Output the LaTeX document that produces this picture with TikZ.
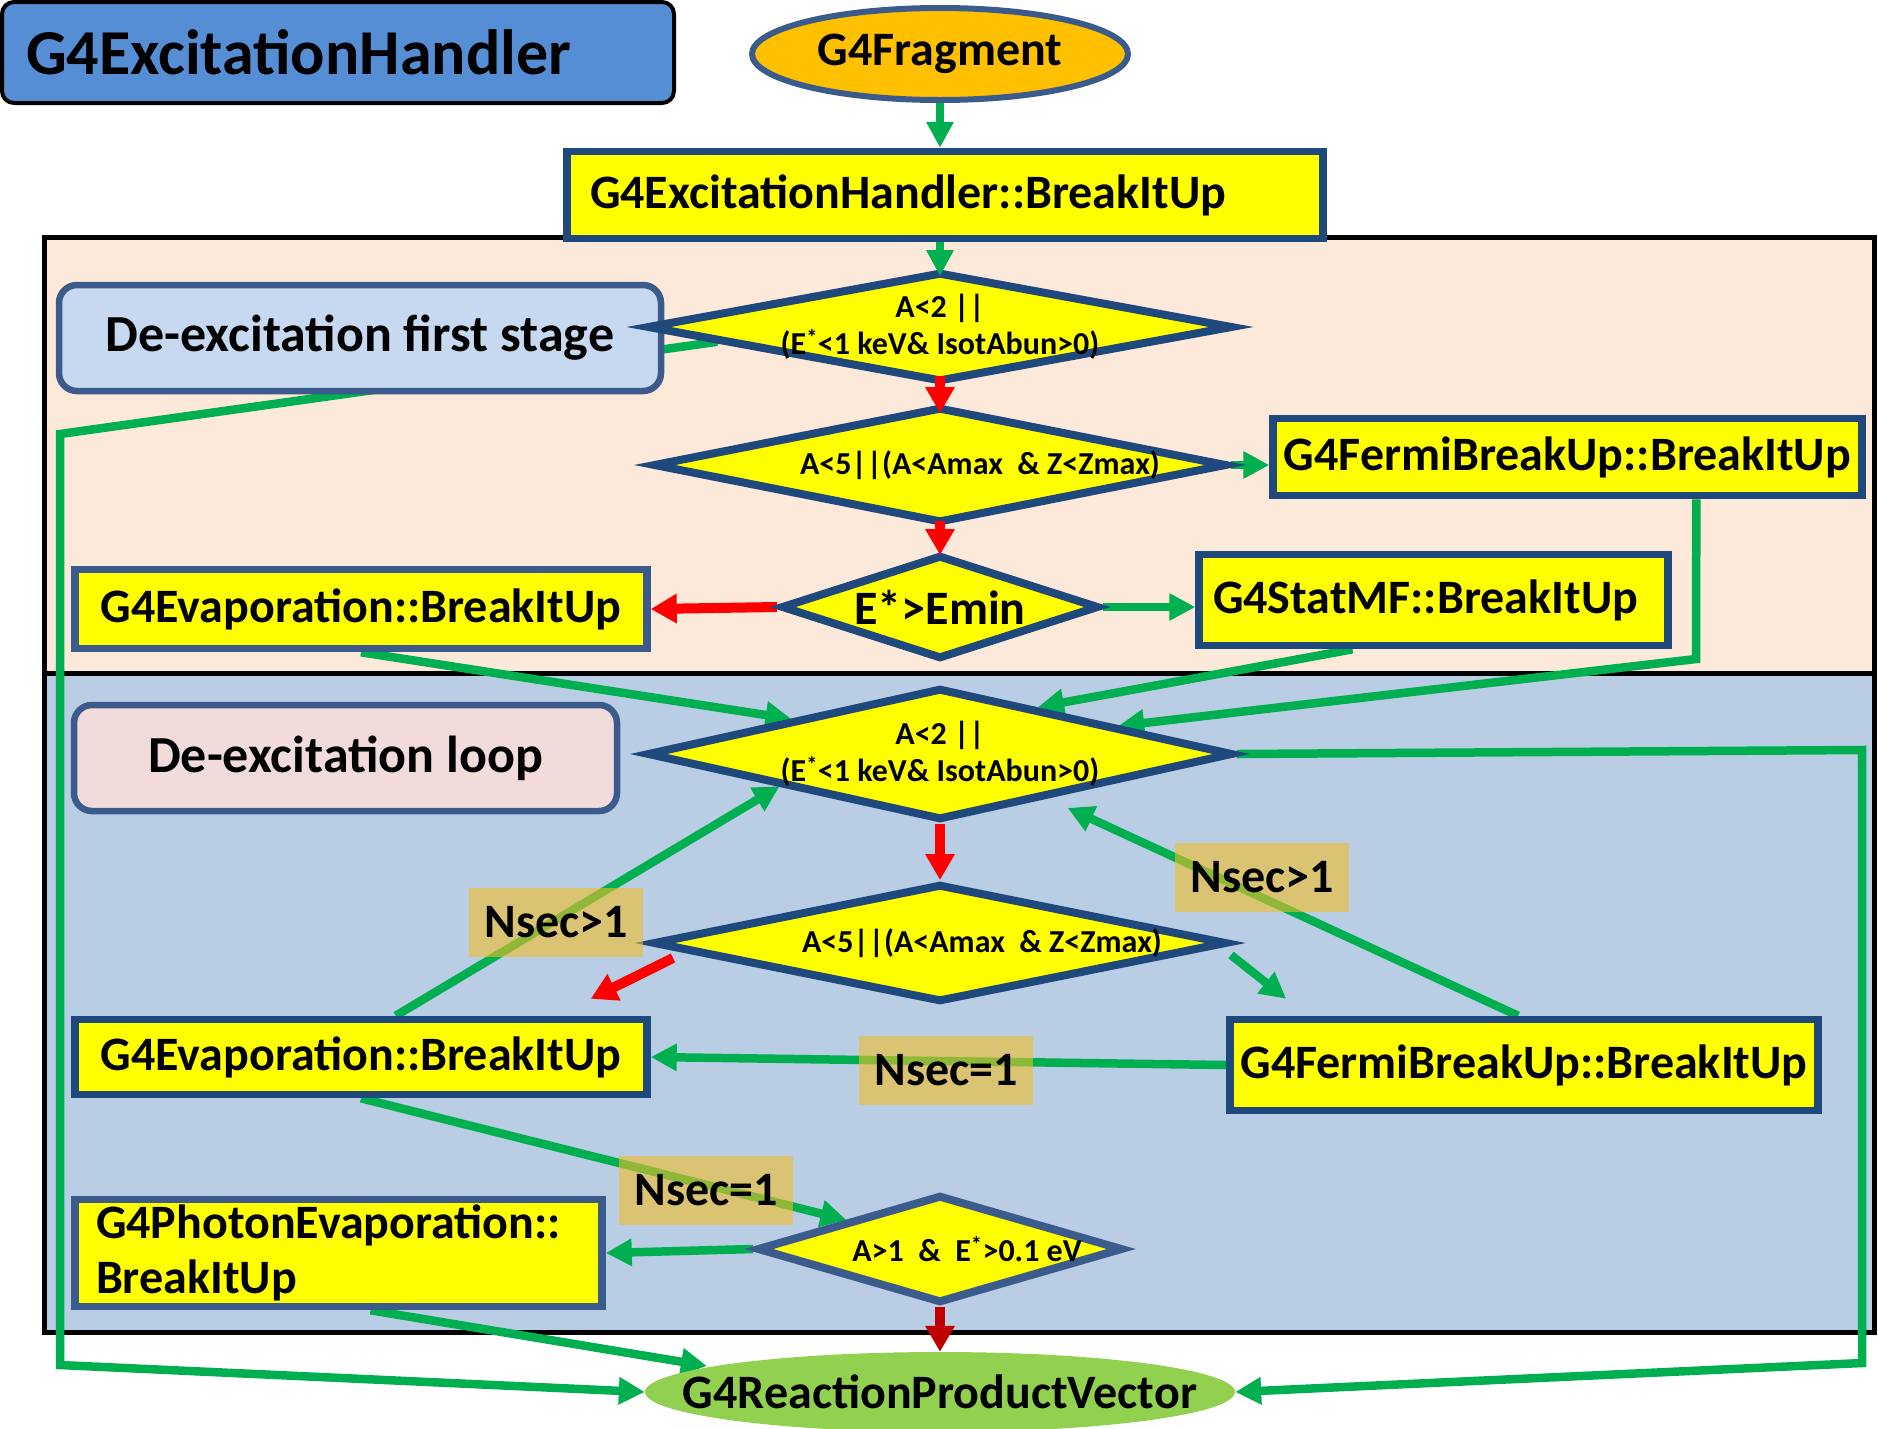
\documentclass[tikz,border=0pt]{standalone}
\usepackage{fontspec}
\setmainfont{Carlito}
\usetikzlibrary{shapes.geometric,arrows.meta,calc}
\definecolor{dkblue}{RGB}{31,73,125}
\definecolor{mdblue}{RGB}{59,91,140}
\definecolor{yel}{RGB}{255,255,0}
\definecolor{grn}{RGB}{0,176,80}
\definecolor{redc}{RGB}{255,0,0}
\definecolor{dred}{RGB}{192,0,0}
\definecolor{peach}{RGB}{253,233,217}
\definecolor{lblue}{RGB}{185,205,229}
\definecolor{titleblue}{RGB}{85,142,213}
\definecolor{stageblue}{RGB}{198,217,241}
\definecolor{pinkc}{RGB}{242,220,219}
\definecolor{orng}{RGB}{255,192,0}
\definecolor{lgreen}{RGB}{146,208,80}
\definecolor{tanc}{RGB}{240,190,40}
\pgfdeclarelayer{back}
\pgfdeclarelayer{lines}
\pgfsetlayers{back,lines,main}
\begin{document}
\begin{tikzpicture}[x=1pt,y=-1pt,
  big/.style={font=\fontsize{48}{55}\selectfont\bfseries},
  ybox/.style={draw=dkblue,line width=7.5pt,fill=yel,inner sep=0pt,big},
  dia/.style={diamond,draw=dkblue,line width=8pt,fill=yel,inner sep=0pt},
  dtext/.style={font=\fontsize{32}{37}\selectfont\bfseries,align=center},
  stagebox/.style={draw=mdblue,line width=6.5pt,rounded corners=18pt,inner sep=0pt,font=\fontsize{52}{60}\selectfont\bfseries},
  garrow/.style={draw=grn,line width=8.5pt,-{Triangle[length=26pt,width=26pt]}},
  rarrow/.style={draw=redc,line width=10pt,-{Triangle[length=26pt,width=28pt]}},
  nlabel/.style={fill=tanc,fill opacity=0.6,text opacity=1,minimum width=174pt,minimum height=69pt,inner sep=0pt,big}
]
\useasboundingbox (0,0) rectangle (1878,1428);

% regions
\begin{pgfonlayer}{back}
\fill[peach] (44,237) rectangle (1874,673);
\fill[lblue] (44,673) rectangle (1874,1332);
\draw[black,line width=5pt] (44,237) rectangle (1874,1332);
\draw[black,line width=5pt] (44,673) -- (1874,673);
\end{pgfonlayer}

% nodes
\node[draw=black,line width=4pt,fill=titleblue,rounded corners=12pt,minimum width=672pt,minimum height=101pt,text width=624pt,inner xsep=24pt,inner ysep=0pt,align=left,font=\fontsize{64}{70}\selectfont\bfseries] (title) at (338,52.5) {G4ExcitationHandler};
\node[ellipse,draw=mdblue,line width=6pt,fill=orng,minimum width=376pt,minimum height=92pt,inner sep=0pt,label={[big]center:G4Fragment}] (frag) at (940,54) {};
\node[ybox,minimum width=756pt,minimum height=87pt,text width=710pt,inner xsep=23pt,align=left] (bih) at (945,195) {G4ExcitationHandler::BreakItUp};

\node[stagebox,fill=stageblue,minimum width=602pt,minimum height=106pt] (stage1) at (360,338) {De-excitation first stage};
\node[stagebox,fill=pinkc,minimum width=543pt,minimum height=106pt] (loop) at (345.5,758) {De-excitation loop};

\node[dia,minimum width=586pt,minimum height=110pt,label={[dtext]center:{A<2 ||\\(E\textsuperscript{*}<1 keV\& IsotAbun>0)}}] (d1) at (940,327) {};
\node[dia,minimum width=574pt,minimum height=116pt,label={[dtext,xshift=40pt]center:{A<5||(A<Amax \ \& Z<Zmax)}}] (d2) at (940,465) {};
\node[dia,minimum width=318pt,minimum height=104pt,label={[big]center:{E*>Emin}}] (d3) at (940,607) {};
\node[dia,minimum width=586pt,minimum height=132pt,label={[dtext]center:{A<2 ||\\(E\textsuperscript{*}<1 keV\& IsotAbun>0)}}] (d4) at (940,754) {};
\node[dia,minimum width=574pt,minimum height=118pt,label={[dtext,xshift=42pt]center:{A<5||(A<Amax \ \& Z<Zmax)}}] (d5) at (940,943) {};
\node[dia,draw=mdblue,minimum width=366pt,minimum height=108pt,label={[dtext,xshift=27pt]center:{A>1 \ \& \ E\textsuperscript{*}>0.1 eV}}] (d6) at (940,1249) {};

\node[ybox,minimum width=589pt,minimum height=77pt] (fermi1) at (1567.5,457) {G4FermiBreakUp::BreakItUp};
\node[ybox,draw=mdblue,minimum width=572pt,minimum height=79pt] (evap1) at (361,609) {G4Evaporation::BreakItUp};
\node[ybox,minimum width=469pt,minimum height=91pt,text width=441pt,inner xsep=14pt,align=left] (statmf) at (1433.5,600) {G4StatMF::BreakItUp};
\node[ybox,minimum width=572pt,minimum height=75pt] (evap2) at (361,1057) {G4Evaporation::BreakItUp};
\node[ybox,minimum width=588pt,minimum height=91pt] (fermi2) at (1524,1065) {G4FermiBreakUp::BreakItUp};
\node[ybox,draw=mdblue,minimum width=527pt,minimum height=107pt,text width=485pt,inner xsep=21pt,align=left] (photon) at (338.5,1253) {G4PhotonEvaporation::\\BreakItUp};

\node[ellipse,fill=lgreen,minimum width=590pt,minimum height=80pt,inner sep=0pt,label={[big]center:G4ReactionProductVector}] (rpv) at (940,1392) {};

\coordinate (lc1) at (60,434);
\coordinate (lc2) at (60,1365);
\coordinate (rc1) at (1862,750);
\coordinate (rc2) at (1862,1363);
\coordinate (fc) at (1696,659);

% connectors
\begin{pgfonlayer}{lines}
\draw[garrow] (frag.south) -- (frag.south |- bih.north);
\draw[garrow] ($(d1.west)!0.25!(d1.south)$) -- (lc1) -- (lc2) -- (rpv.west);
\draw[garrow] (d2.east) -- (d2.east -| fermi1.west);
\draw[rarrow] (d3.west) -- (evap1.east);
\draw[garrow] (d3.east) -- (d3.east -| statmf.west);
\draw[garrow] (evap1.south) -- ($(d4.west)!0.5!(d4.north)$);
\draw[garrow] ($(statmf.south west)!0.33!(statmf.south east)$) -- ($(d4.north)!0.33!(d4.east)$);
\draw[garrow] ($(fermi1.south west)!0.716!(fermi1.south east)$) -- (fc) -- ($(d4.north)!0.6!(d4.east)$);
\draw[garrow] (d4.east) -- (rc1) -- (rc2) -- (rpv.east);
\draw[rarrow] (d4.south) -- (d5.north);
\draw[rarrow] ($(d5.west)+(24,15)$) -- ($(evap2.north east)+(-60,-17)$);
\draw[garrow] ($(d5.east)+(0,12)$) -- ($(fermi2.north west)+(60,-17)$);
\draw[garrow] (fermi2.west) -- (evap2.east);
\draw[garrow] ($(evap2.north west)!0.56!(evap2.north east)$) -- ($(d4.west)!0.46!(d4.south)$);
\draw[garrow] ($(fermi2.north west)!0.49!(fermi2.north east)$) -- ($(d4.south)!0.43!(d4.east)+(0,14)$);
\draw[garrow] (evap2.south) -- ($(d6.west)!0.5!(d6.north)$);
\draw[garrow] (d6.west) -- (photon.east);
\draw[rarrow,draw=dred] (d6.south) -- (rpv.north);
\draw[garrow] ($(photon.south west)!0.56!(photon.south east)$) -- ($(rpv.center)+(-233,-26)$);
\end{pgfonlayer}

% arrows drawn over the diamonds
\draw[garrow] (d1.north |- bih.south) -- ($(d1.north)+(0,8)$);
\draw[rarrow] ($(d1.south)+(0,-10)$) -- ($(d2.north)+(0,10)$);
\draw[rarrow] ($(d2.south)+(0,-6)$) -- ($(d3.north)+(0,4)$);

% labels on connectors
\node[nlabel] (l1) at (556,922) {Nsec>1};
\node[nlabel] (l2) at (1262,877) {Nsec>1};
\node[nlabel] (l3) at (946,1070) {Nsec=1};
\node[nlabel] (l4) at (706,1190) {Nsec=1};
\end{tikzpicture}
\end{document}
